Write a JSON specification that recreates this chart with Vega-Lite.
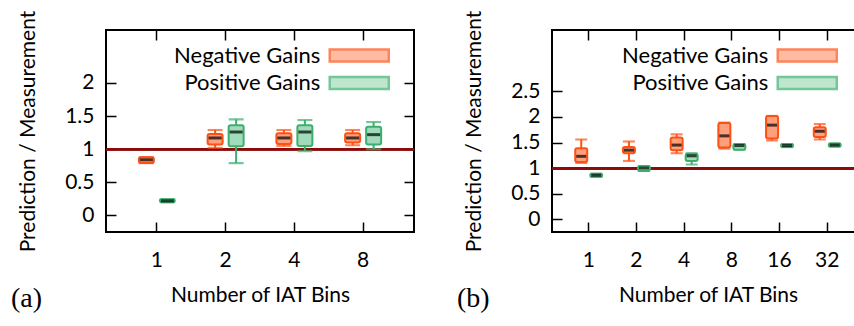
{
  "$schema": "https://vega.github.io/schema/vega-lite/v6.json",
  "padding": {"left": 10, "top": 9, "right": 0, "bottom": 0},
  "spacing": 39,
  "datasets": {
    "a": [
      {"bins": 1, "series": "Negative Gains", "lo": 0.79, "q1": 0.79, "med": 0.84, "q3": 0.88, "hi": 0.88},
      {"bins": 1, "series": "Positive Gains", "lo": 0.2, "q1": 0.2, "med": 0.22, "q3": 0.245, "hi": 0.245},
      {"bins": 2, "series": "Negative Gains", "lo": 1.02, "q1": 1.07, "med": 1.17, "q3": 1.23, "hi": 1.29},
      {"bins": 2, "series": "Positive Gains", "lo": 0.79, "q1": 1.045, "med": 1.26, "q3": 1.36, "hi": 1.45},
      {"bins": 4, "series": "Negative Gains", "lo": 1.05, "q1": 1.08, "med": 1.17, "q3": 1.24, "hi": 1.29},
      {"bins": 4, "series": "Positive Gains", "lo": 0.97, "q1": 1.05, "med": 1.26, "q3": 1.36, "hi": 1.44},
      {"bins": 8, "series": "Negative Gains", "lo": 1.06, "q1": 1.1, "med": 1.17, "q3": 1.24, "hi": 1.29},
      {"bins": 8, "series": "Positive Gains", "lo": 1.0, "q1": 1.07, "med": 1.22, "q3": 1.34, "hi": 1.41}
    ],
    "b": [
      {"bins": 1, "series": "Negative Gains", "lo": 1.1, "q1": 1.12, "med": 1.23, "q3": 1.39, "hi": 1.56},
      {"bins": 1, "series": "Positive Gains", "lo": 0.83, "q1": 0.83, "med": 0.86, "q3": 0.89, "hi": 0.89},
      {"bins": 2, "series": "Negative Gains", "lo": 1.14, "q1": 1.29, "med": 1.35, "q3": 1.41, "hi": 1.52},
      {"bins": 2, "series": "Positive Gains", "lo": 0.945, "q1": 0.945, "med": 1.0, "q3": 1.04, "hi": 1.04},
      {"bins": 4, "series": "Negative Gains", "lo": 1.29, "q1": 1.35, "med": 1.45, "q3": 1.6, "hi": 1.66},
      {"bins": 4, "series": "Positive Gains", "lo": 1.07, "q1": 1.14, "med": 1.24, "q3": 1.28, "hi": 1.29},
      {"bins": 8, "series": "Negative Gains", "lo": 1.38, "q1": 1.4, "med": 1.63, "q3": 1.88, "hi": 1.89},
      {"bins": 8, "series": "Positive Gains", "lo": 1.36, "q1": 1.36, "med": 1.44, "q3": 1.47, "hi": 1.47},
      {"bins": 16, "series": "Negative Gains", "lo": 1.54, "q1": 1.58, "med": 1.84, "q3": 2.02, "hi": 2.02},
      {"bins": 16, "series": "Positive Gains", "lo": 1.41, "q1": 1.41, "med": 1.44, "q3": 1.47, "hi": 1.47},
      {"bins": 32, "series": "Negative Gains", "lo": 1.56, "q1": 1.61, "med": 1.72, "q3": 1.8, "hi": 1.86},
      {"bins": 32, "series": "Positive Gains", "lo": 1.42, "q1": 1.42, "med": 1.45, "q3": 1.48, "hi": 1.48}
    ]
  },
  "config": {
    "font": "Lato",
    "view": {"stroke": "black", "strokeWidth": 2},
    "axis": {"domain": false, "grid": false, "tickSize": -10, "tickColor": "black", "tickWidth": 1.5, "labelFont": "Lato", "labelFontSize": 21, "labelColor": "black", "titleFont": "Lato", "titleFontSize": 21, "titleFontWeight": "normal", "titleColor": "black"},
    "axisX": {"labelPadding": 27, "titlePadding": 14, "labelAngle": 0},
    "axisY": {"labelPadding": 22, "titlePadding": 26},
    "title": {"font": "Liberation Serif", "fontSize": 28, "fontWeight": "normal", "color": "black"},
    "legend": {"labelFont": "Lato", "labelFontSize": 22, "labelColor": "black", "labelAlign": "right", "labelOffset": -50.5, "symbolType": "M-2.95,-0.6H2.95V0.6H-2.95Z", "symbolSize": 400, "symbolOffset": 18.75, "symbolStrokeWidth": 2.5, "rowPadding": 4.5, "padding": 0}
  },
  "resolve": {"scale": {"fill": "independent", "stroke": "independent", "xOffset": "independent"}},
  "hconcat": [
    {
      "width": 308, "height": 202,
      "data": {"name": "a"},
      "title": {"text": "(a)", "orient": "bottom", "anchor": "start", "frame": "group", "dx": -95, "offset": -20},
      "layer": [
        {"mark": {"type": "rule", "color": "#8b0a0a", "strokeWidth": 2.2},
         "encoding": {"y": {"datum": 1, "type": "quantitative", "scale": {"domain": [-0.25, 2.8], "nice": false, "zero": false}, "axis": null}}},
        {"mark": {"type": "rule", "strokeWidth": 2},
         "encoding": {
           "x": {"field": "bins", "type": "ordinal", "scale": {"paddingInner": 0, "paddingOuter": 0.24}, "axis": {"orient": "bottom", "title": "Number of IAT Bins"}},
           "xOffset": {"field": "series", "type": "nominal", "scale": {"paddingInner": 0, "paddingOuter": 0.636}},
           "y": {"field": "lo", "type": "quantitative", "scale": {"domain": [-0.25, 2.8], "nice": false, "zero": false}, "axis": {"orient": "left", "title": "Prediction / Measurement", "values": [0, 0.5, 1, 1.5, 2], "format": "~g"}},
           "y2": {"field": "hi"},
           "stroke": {"field": "series", "type": "nominal", "scale": {"domain": ["Negative Gains", "Positive Gains"], "range": ["#ff5014", "#3cae6e"]}}
         }},
        {"mark": {"type": "tick", "size": 13, "thickness": 0.1, "filled": false, "strokeWidth": 2},
         "encoding": {
           "x": {"field": "bins", "type": "ordinal", "axis": {"orient": "top", "title": null, "labels": false}},
           "xOffset": {"field": "series", "type": "nominal"},
           "y": {"field": "lo", "type": "quantitative", "axis": {"orient": "right", "title": null, "labels": false, "values": [0, 0.5, 1, 1.5, 2]}},
           "stroke": {"field": "series", "type": "nominal"}
         }},
        {"mark": {"type": "tick", "size": 13, "thickness": 0.1, "filled": false, "strokeWidth": 2},
         "encoding": {
           "x": {"field": "bins", "type": "ordinal", "axis": null},
           "xOffset": {"field": "series", "type": "nominal"},
           "y": {"field": "hi", "type": "quantitative", "axis": null},
           "stroke": {"field": "series", "type": "nominal"}
         }},
        {"mark": {"type": "bar", "width": 15, "strokeWidth": 2, "cornerRadius": 2},
         "encoding": {
           "x": {"field": "bins", "type": "ordinal", "axis": null},
           "xOffset": {"field": "series", "type": "nominal"},
           "y": {"field": "q1", "type": "quantitative", "axis": null},
           "y2": {"field": "q3"},
           "fill": {"field": "series", "type": "nominal", "scale": {"domain": ["Negative Gains", "Positive Gains"], "range": ["#ffa07d", "#a0dcb9"]}, "legend": {"orient": "none", "legendX": 223, "legendY": 14, "title": null}},
           "stroke": {"field": "series", "type": "nominal", "legend": {"orient": "none", "legendX": 223, "legendY": 14, "title": null}}
         }},
        {"mark": {"type": "tick", "size": 13, "thickness": 3, "color": "black"},
         "encoding": {
           "x": {"field": "bins", "type": "ordinal", "axis": null},
           "xOffset": {"field": "series", "type": "nominal"},
           "y": {"field": "med", "type": "quantitative", "axis": null}
         }}
      ]
    },
    {
      "width": 312, "height": 202,
      "data": {"name": "b"},
      "title": {"text": "(b)", "orient": "bottom", "anchor": "start", "frame": "group", "dx": -95, "offset": -20},
      "layer": [
        {"mark": {"type": "rule", "color": "#8b0a0a", "strokeWidth": 2.2},
         "encoding": {"y": {"datum": 1, "type": "quantitative", "scale": {"domain": [-0.25, 3.7], "nice": false, "zero": false}, "axis": null}}},
        {"mark": {"type": "rule", "strokeWidth": 2},
         "encoding": {
           "x": {"field": "bins", "type": "ordinal", "scale": {"paddingInner": 0, "paddingOuter": 0.27}, "axis": {"orient": "bottom", "title": "Number of IAT Bins"}},
           "xOffset": {"field": "series", "type": "nominal", "scale": {"paddingInner": 0, "paddingOuter": 0.59}},
           "y": {"field": "lo", "type": "quantitative", "scale": {"domain": [-0.25, 3.7], "nice": false, "zero": false}, "axis": {"orient": "left", "title": "Prediction / Measurement", "values": [0, 0.5, 1, 1.5, 2, 2.5], "format": "~g"}},
           "y2": {"field": "hi"},
           "stroke": {"field": "series", "type": "nominal", "scale": {"domain": ["Negative Gains", "Positive Gains"], "range": ["#ff5014", "#3cae6e"]}}
         }},
        {"mark": {"type": "tick", "size": 10, "thickness": 0.1, "filled": false, "strokeWidth": 2},
         "encoding": {
           "x": {"field": "bins", "type": "ordinal", "axis": {"orient": "top", "title": null, "labels": false}},
           "xOffset": {"field": "series", "type": "nominal"},
           "y": {"field": "lo", "type": "quantitative", "axis": {"orient": "right", "title": null, "labels": false, "values": [0, 0.5, 1, 1.5, 2, 2.5]}},
           "stroke": {"field": "series", "type": "nominal"}
         }},
        {"mark": {"type": "tick", "size": 10, "thickness": 0.1, "filled": false, "strokeWidth": 2},
         "encoding": {
           "x": {"field": "bins", "type": "ordinal", "axis": null},
           "xOffset": {"field": "series", "type": "nominal"},
           "y": {"field": "hi", "type": "quantitative", "axis": null},
           "stroke": {"field": "series", "type": "nominal"}
         }},
        {"mark": {"type": "bar", "width": 12, "strokeWidth": 2, "cornerRadius": 2},
         "encoding": {
           "x": {"field": "bins", "type": "ordinal", "axis": null},
           "xOffset": {"field": "series", "type": "nominal"},
           "y": {"field": "q1", "type": "quantitative", "axis": null},
           "y2": {"field": "q3"},
           "fill": {"field": "series", "type": "nominal", "scale": {"domain": ["Negative Gains", "Positive Gains"], "range": ["#ffa07d", "#a0dcb9"]}, "legend": {"orient": "none", "legendX": 225, "legendY": 14, "title": null}},
           "stroke": {"field": "series", "type": "nominal", "legend": {"orient": "none", "legendX": 225, "legendY": 14, "title": null}}
         }},
        {"mark": {"type": "tick", "size": 10, "thickness": 3, "color": "black"},
         "encoding": {
           "x": {"field": "bins", "type": "ordinal", "axis": null},
           "xOffset": {"field": "series", "type": "nominal"},
           "y": {"field": "med", "type": "quantitative", "axis": null}
         }}
      ]
    }
  ]
}
